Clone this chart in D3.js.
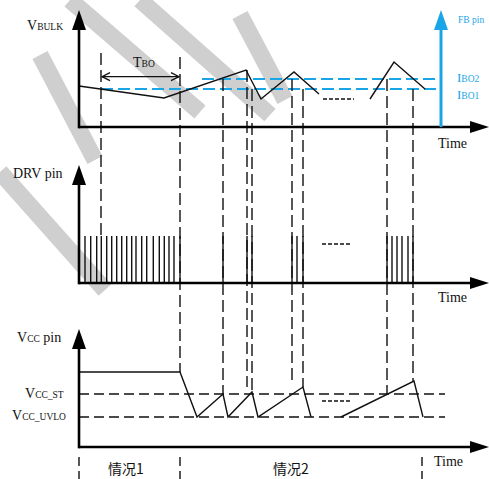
<!DOCTYPE html>
<html><head><meta charset="utf-8">
<script src="https://cdn.jsdelivr.net/npm/d3@7"></script>
<style>body{margin:0;background:#fff}svg{display:block}</style>
</head><body>
<script>
// ---------- data ----------
const timeDomain = [0, 410];
const bulkSegment1 = [[0,41],[85,29],[167,57],[182,28],[215,55],[240,33]];
const bulkSegment2 = [[291,28],[315,65],[346,38]];
const iboLevels = [{label:"BO2", v:48, from:123}, {label:"BO1", v:38, from:22}];
const fbPinT = 362;
const tboRange = [22, 101];
const drvPulses = [6,11.7,17.7,22.3,27.7,32.7,37.7,42.7,47.7,52.7,57,62.7,67.7,74.3,80.3,85.3,90,95,101,
                   144,168,173,213,218,224,308,313,318,323,329,334];
const vccSegment1 = [[0,75],[101,75],[118,30],[144,53],[149,30],[173,55],[179,30],[224,60],[232,30]];
const vccSegment2 = [[262,30],[335,66],[344,30]];
const vccLevels = [{name:"ST", v:53}, {name:"UVLO", v:30}];
const vlineT      = [22, 101, 144, 168, 173, 213, 224, 308, 334];
const vlineTopBulk= [74, 70, 48, 57, 38, 48, 38, 48, 38];
const vlineBotVcc = [null, 75, 53, 60, 55, 62, 60, 53, 66];
const separatorT  = [0, 101, 343];
const caseLabels  = [{t:29, text:"情况1"}, {t:194, text:"情况2"}];
const bulkDots = [244, 275], drvDots = [243, 273], vccDots = [243, 271];
// watermark strokes (approximate grey background marks)
const watermarkStrokes = [
  [[40,55],[95,160]],
  [[0,172],[105,290]],
  [[70,0],[200,112]],
  [[140,0],[270,115]],
  [[240,15],[285,100]]
];

// ---------- layout ----------
const W = 489, H = 479;
const svg = d3.select("body").append("svg").attr("width", W).attr("height", H);
const x = d3.scaleLinear().domain(timeDomain).range([79, 489]);
const yBulk = d3.scaleLinear().domain([0,117]).range([127,10]);
const yDrv  = d3.scaleLinear().domain([0,1]).range([283,236]);
const drvTop = 165;
const yVcc  = d3.scaleLinear().domain([0,118]).range([447,329]);
const serif = "Liberation Serif, Times New Roman, serif";
const blue = "#1aa5e6";
const line = d3.line().x(d=>x(d[0]));

// watermark
watermarkStrokes.forEach(s=>{
  svg.append("path").attr("d", d3.line()(s)).attr("stroke","#cfcfcf").attr("stroke-width",17)
    .attr("fill","none").attr("stroke-linecap","butt");
});

// ---------- blue IBO lines ----------
iboLevels.forEach(l=>{
  svg.append("line").attr("x1",x(l.from)).attr("x2",x(fbPinT)).attr("y1",yBulk(l.v)).attr("y2",yBulk(l.v))
    .attr("stroke",blue).attr("stroke-width",2).attr("stroke-dasharray","12,5");
});

// ---------- dashed verticals ----------
vlineT.forEach((t,i)=>{
  const yb = vlineBotVcc[i]==null ? yDrv(1) : yVcc(vlineBotVcc[i]);
  svg.append("line").attr("x1",x(t)).attr("x2",x(t)).attr("y1",yBulk(vlineTopBulk[i])).attr("y2",yb)
    .attr("stroke","#111").attr("stroke-width",1.4).attr("stroke-dasharray","12,5");
});
separatorT.forEach(t=>{
  svg.append("line").attr("x1",x(t)).attr("x2",x(t)).attr("y1",457).attr("y2",479)
    .attr("stroke","#111").attr("stroke-width",1.4).attr("stroke-dasharray","9,5");
});
vccLevels.forEach(l=>{
  svg.append("line").attr("x1",x(0)).attr("x2",x(366)).attr("y1",yVcc(l.v)).attr("y2",yVcc(l.v))
    .attr("stroke","#111").attr("stroke-width",1.4).attr("stroke-dasharray","10,5");
});

// ---------- curves ----------
[bulkSegment1, bulkSegment2].forEach(seg=>{
  svg.append("path").attr("d", line.y(d=>yBulk(d[1]))(seg)).attr("fill","none").attr("stroke","#111").attr("stroke-width",1.4);
});
[vccSegment1, vccSegment2].forEach(seg=>{
  svg.append("path").attr("d", line.y(d=>yVcc(d[1]))(seg)).attr("fill","none").attr("stroke","#111").attr("stroke-width",1.4);
});
drvPulses.forEach(t=>{
  svg.append("line").attr("x1",x(t)).attr("x2",x(t)).attr("y1",yDrv(0)).attr("y2",yDrv(1))
    .attr("stroke","#111").attr("stroke-width",1.4);
});
[[bulkDots, yBulk(28)],[drvDots, yDrv(0.83)],[vccDots, yVcc(46)]].forEach(([r,yy])=>{
  svg.append("line").attr("x1",x(r[0])).attr("x2",x(r[1])).attr("y1",yy).attr("y2",yy)
    .attr("stroke","#111").attr("stroke-width",1.5).attr("stroke-dasharray","4,2");
});

// ---------- axes ----------
function axes(yScale, y0, yTop){
  const gx = svg.append("g").attr("transform",`translate(0,${y0})`)
    .call(d3.axisBottom(x).tickValues([]).tickSizeOuter(0));
  gx.select(".domain").attr("stroke","#000").attr("stroke-width",2.6).attr("d",`M${x(0)},0H${475}`);
  const gy = svg.append("g").attr("transform",`translate(${x(0)},0)`)
    .call(d3.axisLeft(yScale).tickValues([]).tickSizeOuter(0));
  gy.select(".domain").attr("stroke","#000").attr("stroke-width",2.6).attr("d",`M0,${y0+1.3}V${yTop+12}`);
  svg.append("path").attr("d",`M489,${y0}L470,${y0-6}L470,${y0+6}Z`).attr("fill","#000");
  svg.append("path").attr("d",`M${x(0)},${yTop}L${x(0)-7},${yTop+20}L${x(0)+7},${yTop+20}Z`).attr("fill","#000");
}
axes(yBulk, yBulk(0), 10);
axes(yDrv, yDrv(0), drvTop);
axes(yVcc, yVcc(0), 329);

svg.append("line").attr("x1",x(fbPinT)).attr("x2",x(fbPinT)).attr("y1",yBulk(0)).attr("y2",28)
  .attr("stroke",blue).attr("stroke-width",3);
svg.append("path").attr("d",`M${x(fbPinT)},10L${x(fbPinT)-7},30L${x(fbPinT)+7},30Z`).attr("fill",blue);

const ty = 76.7;
svg.append("line").attr("x1",x(tboRange[0])+1).attr("x2",x(tboRange[1])-1).attr("y1",ty).attr("y2",ty)
  .attr("stroke","#111").attr("stroke-width",1.3);
svg.append("path").attr("d",`M${x(tboRange[0])+9},${ty-4}L${x(tboRange[0])+1},${ty}L${x(tboRange[0])+9},${ty+4}`)
  .attr("fill","none").attr("stroke","#111").attr("stroke-width",1.3);
svg.append("path").attr("d",`M${x(tboRange[1])-9},${ty-4}L${x(tboRange[1])-1},${ty}L${x(tboRange[1])-9},${ty+4}`)
  .attr("fill","none").attr("stroke","#111").attr("stroke-width",1.3);

// ---------- text ----------
function label(xp, yp, parts, color){
  const t = svg.append("text").attr("x",xp).attr("y",yp).attr("font-family",serif).attr("fill",color||"#111");
  parts.forEach(([s,fs])=>t.append("tspan").attr("font-size",fs).text(s));
  return t;
}
label(27,30,[["V",14],["BULK",9.5]]);
label(133,67,[["T",14],["BO",9.5]]);
label(13,178,[["DRV pin",14]]);
label(17,342,[["V",14],["CC",9.5],[" pin",14]]);
label(25,398,[["V",14],["CC_ST",9.5]]);
label(12,420,[["V",14],["CC_UVLO",9.5]]);
label(438,148,[["Time",14]]);
label(438,302,[["Time",14]]);
label(434,466,[["Time",14]]);
label(458,23,[["FB pin",9.5]], blue);
label(457,82,[["I",13],["BO2",9.5]], blue);
label(457,99,[["I",13],["BO1",9.5]], blue);
caseLabels.forEach(c=>{
  svg.append("text").attr("x",x(c.t)).attr("y",474).attr("font-family","Noto Sans CJK SC, sans-serif")
    .attr("font-size",14).attr("fill","#111").text(c.text);
});
</script>
</body></html>
